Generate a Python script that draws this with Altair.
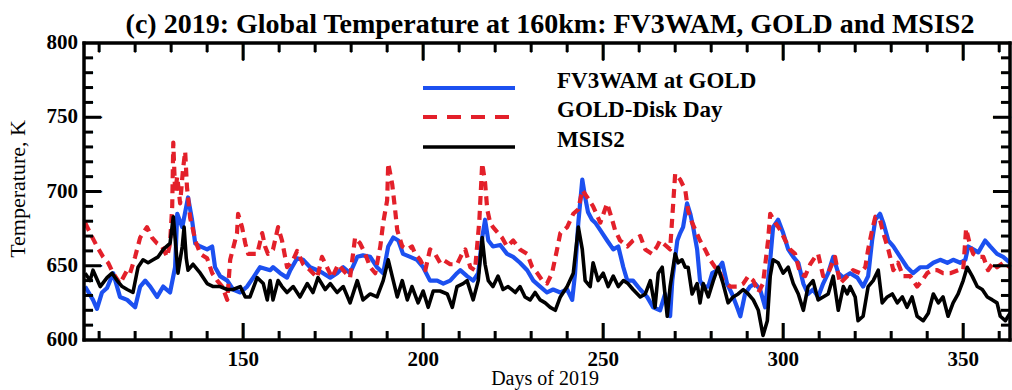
import altair as alt
import pandas as pd

# ---------------- data ----------------
blue_day = [106.1,108.3,109.4,110.8,112.2,113.9,115.8,117.8,120.0,121.4,122.8,124.2,126.1,127.8,129.7,131.1,131.7,133.1,134.7,135.8,
            136.7,138.1,140.0,141.4,142.2,143.6,145.6,147.2,149.2,151.1,152.8,154.7,157.5,158.3,160.3,162.2,163.1,165.0,166.7,168.6,
            170.6,172.2,174.2,176.1,177.8,179.7,181.7,183.3,185.3,187.2,188.9,190.3,191.7,193.1,194.4,196.4,198.3,200.0,201.9,203.9,
            205.6,207.5,209.4,210.3,212.2,213.9,215.3,216.4,217.2,218.1,219.4,221.4,223.3,225.0,226.9,228.9,230.6,232.5,234.4,236.1,
            238.1,240.0,241.4,242.2,243.1,244.2,245.0,245.8,246.9,247.8,249.2,251.1,252.8,254.2,255.6,256.7,258.3,260.3,262.2,263.9,
            265.8,267.2,268.6,269.2,270.6,271.4,272.2,273.3,274.2,275.0,276.1,276.9,277.8,279.2,280.3,281.7,283.1,284.4,285.8,287.2,
            288.1,289.4,290.8,292.2,293.6,295.0,296.4,297.2,298.6,300.0,301.4,302.8,304.2,305.6,306.9,308.3,309.7,311.1,312.5,313.9,
            315.3,316.7,318.6,320.6,322.2,323.6,324.7,325.6,326.9,327.8,329.2,330.6,332.5,334.4,336.1,338.1,340.0,341.7,343.6,345.6,
            347.2,349.2,350.6,351.4,352.8,354.2,356.1,357.5,359.4,361.1,363.0]
blue_temp = [636,627,621,632,635,645,629,627,622,636,640,636,629,636,632,649,685,676,696,681,
             665,663,661,663,649,643,640,634,632,636,642,649,647,649,645,642,647,655,654,649,
             647,645,642,645,649,645,656,657,656,649,645,663,669,667,658,656,654,649,640,640,
             638,640,645,647,643,640,645,669,681,667,663,664,658,656,652,647,640,636,632,634,
             632,634,627,645,679,708,696,686,681,679,674,667,661,663,649,640,640,634,629,622,
             620,631,616,640,667,672,676,692,685,676,661,640,636,636,645,647,652,638,631,622,
             616,631,636,638,634,622,654,676,681,672,661,656,652,638,631,634,629,638,645,656,
             645,642,645,642,636,643,667,681,685,679,667,663,656,649,645,649,649,652,654,652,
             654,652,654,663,661,659,667,663,658,656,652]

red_day = [106.1,107.5,109.4,111.1,112.5,113.9,115.8,117.8,118.6,120.0,121.4,123.3,124.7,126.1,127.5,128.9,129.7,130.3,130.6,131.1,
           131.7,132.5,133.3,133.9,134.4,135.3,136.1,136.7,138.1,140.0,141.4,142.8,144.2,145.6,146.4,148.3,148.6,149.7,150.6,151.4,
           153.9,155.3,156.1,156.9,158.3,159.7,160.8,162.2,163.9,165.0,166.7,168.6,170.6,171.9,173.3,174.7,176.4,177.8,179.7,181.1,
           182.5,183.9,185.3,186.7,188.1,188.9,190.0,190.3,191.4,192.2,192.8,194.2,195.6,196.9,197.8,199.2,200.6,201.9,203.3,204.7,
           205.6,207.5,209.4,210.8,211.7,213.1,214.4,215.6,216.4,217.2,217.8,218.6,219.4,220.8,221.9,223.3,225.0,226.9,228.9,230.3,
           231.7,233.1,234.4,235.8,237.2,238.1,240.0,241.7,243.1,244.2,245.6,247.2,249.2,251.1,252.5,253.3,254.7,256.7,258.3,260.3,
           261.7,263.6,265.0,265.8,267.2,268.6,269.4,270.0,271.4,272.8,273.6,274.7,276.9,278.3,279.7,281.1,282.5,283.3,285.3,287.2,
           288.9,290.3,291.7,293.1,294.4,295.8,296.4,297.8,299.2,300.6,301.9,303.3,304.7,306.1,307.5,308.9,309.7,311.1,312.5,314.4,
           315.8,317.8,319.4,321.4,322.8,323.6,324.7,325.6,326.9,327.8,329.2,330.6,331.9,333.3,335.3,337.2,338.6,340.0,341.4,342.8,
           344.4,346.4,348.6,350.0,350.8,352.0,352.8,354.2,355.6,356.9,358.3,359.4,361.1,363.0]
red_temp = [679,672,663,656,652,645,638,647,645,656,669,676,669,665,663,656,665,690,733,700,
            710,692,715,727,703,682,674,667,658,655,645,640,636,627,654,672,685,676,665,658,
            658,672,663,658,661,676,667,649,654,660,651,647,642,656,649,642,651,647,642,669,
            665,658,649,645,663,679,694,719,705,688,674,663,661,663,658,654,647,661,658,652,
            654,651,651,658,661,649,647,680,719,706,688,679,676,672,669,663,667,661,658,649,
            645,640,638,645,661,672,676,685,688,701,696,690,679,692,681,674,667,663,667,670,
            661,658,663,667,664,661,690,712,708,701,687,679,667,661,654,649,645,640,636,636,
            638,643,640,632,638,667,685,679,674,667,661,658,645,643,651,656,658,643,645,656,
            638,643,647,645,649,661,674,683,681,672,661,647,652,643,643,636,640,645,647,647,
            645,645,647,647,675,663,658,656,656,647,652,649,652,649]

black_day = [106.1,107.5,108.3,110.3,112.2,113.6,115.0,116.4,117.8,119.4,120.8,122.2,123.6,125.0,126.4,127.8,129.7,130.6,131.4,131.9,
             133.1,133.6,134.2,134.7,136.1,138.1,140.0,141.7,143.6,145.6,147.2,149.2,150.6,151.9,153.9,155.6,156.7,157.5,158.3,159.7,
             160.8,162.2,163.9,165.8,167.8,169.4,170.8,172.8,174.2,176.1,177.8,179.7,181.7,183.3,185.3,187.2,188.9,190.3,191.7,192.8,
             194.2,195.6,196.9,198.6,200.0,201.4,202.8,204.7,206.7,208.1,209.4,211.1,212.2,213.9,215.3,216.4,217.2,218.1,219.4,220.8,
             222.2,223.6,225.6,226.9,228.3,229.7,231.1,232.5,233.9,235.3,236.7,238.1,240.0,241.7,243.1,244.2,245.0,246.4,247.2,248.6,
             250.0,251.4,252.8,254.2,255.6,256.9,258.3,260.3,261.7,263.1,264.4,265.3,266.4,267.8,268.6,270.0,270.8,271.9,272.8,273.6,
             274.7,276.1,276.9,277.8,279.2,280.6,281.9,283.3,284.7,286.1,287.5,288.9,290.3,291.7,293.1,294.4,295.6,296.4,297.2,298.6,
             300.0,301.4,302.8,304.2,305.6,306.9,308.3,309.7,311.1,312.5,313.9,315.3,316.7,317.8,318.6,320.0,320.8,322.2,323.6,325.0,
             326.4,327.5,328.9,330.3,331.7,333.1,334.4,335.8,337.2,338.9,340.3,341.7,343.1,344.4,345.8,347.2,348.6,350.0,351.1,352.5,
             353.9,355.3,356.7,358.1,359.4,360.3,361.7,363.0]
black_temp = [645,640,647,636,642,645,640,636,634,632,649,654,652,654,656,661,665,683,660,645,
              663,676,655,647,651,645,638,636,636,634,634,636,629,629,642,638,627,640,627,640,
              636,632,636,629,638,632,642,634,638,632,636,625,640,627,631,629,640,654,640,629,
              640,627,636,625,633,622,633,633,631,622,636,638,640,627,640,669,651,640,636,643,
              634,636,632,636,629,627,632,627,625,622,620,629,636,645,676,661,640,636,652,640,
              645,636,643,636,640,638,634,629,631,640,622,645,649,616,636,658,652,654,649,649,
              631,638,625,638,629,640,649,638,625,629,631,634,631,627,620,603,613,643,654,652,
              645,649,638,631,620,636,640,627,629,631,643,620,636,631,636,629,613,616,636,640,
              647,625,629,631,625,629,622,629,616,613,618,631,625,629,616,625,631,640,649,643,
              636,634,629,627,625,616,613,618]

series_names = ["FV3WAM at GOLD", "GOLD-Disk Day", "MSIS2"]
series_colors = ["#1c50f0", "#e3202a", "#000000"]

x_major = [150, 200, 250, 300, 350]
x_minor = [110, 120, 130, 140, 160, 170, 180, 190, 210, 220, 230, 240, 260, 270, 280, 290, 310, 320, 330, 340, 360]
y_major = [650, 700, 750]
y_minor = [610, 620, 630, 640, 660, 670, 680, 690, 710, 720, 730, 740, 760, 770, 780, 790]
y_labels = [600, 650, 700, 750, 800]

title_text = "(c) 2019: Global Temperature at 160km: FV3WAM, GOLD and MSIS2"
x_title = "Days of 2019"
y_title = "Temperature, K"

# ---------------- chart ----------------
W, H = 926, 297
SERIF = "Liberation Serif"
MAJ, MIN = 17, 9

xs = alt.Scale(domain=[105.8, 363.0], nice=False, zero=False)
ys = alt.Scale(domain=[600, 800], nice=False, zero=False)


def X(field):
    return alt.X(field, scale=xs, axis=None)


def Y(field):
    return alt.Y(field, scale=ys, axis=None)


def series_chart(days, temps, color, dash=None, width=4.0):
    df = pd.DataFrame({"day": days, "temp": temps})
    kw = dict(color=color, strokeWidth=width, strokeJoin="round", clip=True)
    if dash:
        kw["strokeDash"] = dash
        kw["strokeCap"] = "butt"
    return alt.Chart(df).mark_line(**kw).encode(x=X("day:Q"), y=Y("temp:Q"))


blue = series_chart(blue_day, blue_temp, series_colors[0], width=4.2)
red = series_chart(red_day, red_temp, series_colors[1], dash=[9, 6], width=4.2)
black = series_chart(black_day, black_temp, series_colors[2], width=3.6)


def xticks(vals, length, top):
    df = pd.DataFrame({"v": vals})
    if top:
        y1, y2 = alt.value(0), alt.value(length)
    else:
        y1, y2 = alt.value(H), alt.value(H - length)
    return alt.Chart(df).mark_rule(color="black", strokeWidth=3).encode(x=X("v:Q"), y=y1, y2=y2)


def yticks(vals, length, right):
    df = pd.DataFrame({"v": vals})
    if right:
        x1, x2 = alt.value(W), alt.value(W - length)
    else:
        x1, x2 = alt.value(0), alt.value(length)
    return alt.Chart(df).mark_rule(color="black", strokeWidth=3).encode(y=Y("v:Q"), x=x1, x2=x2)


# bar-glyph ticks as a fallback drawing of the same inward ticks
def xglyph(vals, length, top):
    df = pd.DataFrame({"g": vals})
    yc = length / 2 if top else H - length / 2
    return alt.Chart(df).mark_text(
        text="|", font="DejaVu Sans", fontWeight="bold", fontSize=length, align="center",
        baseline="middle", color="black"
    ).encode(x=X("g:Q"), y=alt.value(yc))


def yglyph(vals, length, right):
    df = pd.DataFrame({"g": vals})
    xc = W - length / 2 if right else length / 2
    return alt.Chart(df).mark_text(
        text="|", font="DejaVu Sans", fontWeight="bold", fontSize=length, align="center",
        baseline="middle", color="black", angle=90
    ).encode(y=Y("g:Q"), x=alt.value(xc))


ticks = [xticks(x_major, MAJ, False), xticks(x_minor, MIN, False),
         xticks(x_major, MAJ, True), xticks(x_minor, MIN, True),
         yticks(y_major, MAJ, False), yticks(y_minor, MIN, False),
         yticks(y_major, MAJ, True), yticks(y_minor, MIN, True),
         xglyph(x_major, MAJ, False), xglyph(x_minor, MIN, False),
         xglyph(x_major, MAJ, True), xglyph(x_minor, MIN, True),
         yglyph(y_major, MAJ, False), yglyph(y_minor, MIN, False),
         yglyph(y_major, MAJ, True), yglyph(y_minor, MIN, True)]

# plot frame
frame_df = pd.DataFrame({"side": ["frame"]})
frame = [
    alt.Chart(frame_df).mark_rule(color="black", strokeWidth=3.5).encode(x=alt.value(-1.5), x2=alt.value(W + 1.5), y=alt.value(0)),
    alt.Chart(frame_df).mark_rule(color="black", strokeWidth=3.5).encode(x=alt.value(-1.5), x2=alt.value(W + 1.5), y=alt.value(H)),
    alt.Chart(frame_df).mark_rule(color="black", strokeWidth=3.5).encode(y=alt.value(-1.5), y2=alt.value(H + 1.5), x=alt.value(0)),
    alt.Chart(frame_df).mark_rule(color="black", strokeWidth=3.5).encode(y=alt.value(-1.5), y2=alt.value(H + 1.5), x=alt.value(W)),
]

# tick labels and axis titles
xlab = alt.Chart(pd.DataFrame({"lab": x_major})).mark_text(
    align="center", baseline="top", font=SERIF, fontSize=21, fontWeight="bold", color="black"
).encode(x=X("lab:Q"), y=alt.value(H + 9), text=alt.Text("lab:Q", format="d"))
ylab = alt.Chart(pd.DataFrame({"lab": y_labels})).mark_text(
    align="right", baseline="middle", font=SERIF, fontSize=21, fontWeight="bold", color="black"
).encode(y=Y("lab:Q"), x=alt.value(-6), text=alt.Text("lab:Q", format="d"))
xtit = alt.Chart(pd.DataFrame({"t": [x_title]})).mark_text(
    align="center", baseline="alphabetic", font=SERIF, fontSize=20, color="black"
).encode(x=alt.value(W / 2 - 2), y=alt.value(H + 45), text="t:N")
ytit = alt.Chart(pd.DataFrame({"t": [y_title]})).mark_text(
    align="center", baseline="middle", font=SERIF, fontSize=22, color="black", angle=270
).encode(x=alt.value(-66), y=alt.value(146), text="t:N")

# legend (drawn inside the plot, upper middle)
leg_y = [45, 74, 104]
legend_layers = []
for name, col, ly in zip(series_names, series_colors, leg_y):
    ldf = pd.DataFrame({"label": [name]})
    rule_kw = dict(color=col, strokeWidth=4 if col != "#000000" else 3.6)
    if name == "GOLD-Disk Day":
        rule_kw["strokeDash"] = [14, 10]
        rule_kw["strokeCap"] = "butt"
    legend_layers.append(alt.Chart(ldf).mark_rule(**rule_kw).encode(
        x=alt.value(339), x2=alt.value(431), y=alt.value(ly)))
    legend_layers.append(alt.Chart(ldf).mark_text(
        align="left", baseline="alphabetic", font=SERIF, fontSize=23, fontWeight="bold", color="black"
    ).encode(x=alt.value(473), y=alt.value(ly), text="label:N"))

title_layer = alt.Chart(pd.DataFrame({"t": [title_text]})).mark_text(
    align="center", baseline="alphabetic", font=SERIF, fontSize=28, fontWeight="bold", color="black"
).encode(x=alt.value(W / 2 + 3), y=alt.value(-10), text="t:N")

chart = alt.layer(blue, red, black, *ticks, *frame, xlab, ylab, xtit, ytit, *legend_layers, title_layer).properties(
    width=W, height=H,
    padding={"left": 84, "top": 43, "right": 2, "bottom": 50},
    autosize=alt.AutoSizeParams(type="none"),
).configure(background="white")

chart.save("out.html", embed_options={"renderer": "svg", "actions": False})
